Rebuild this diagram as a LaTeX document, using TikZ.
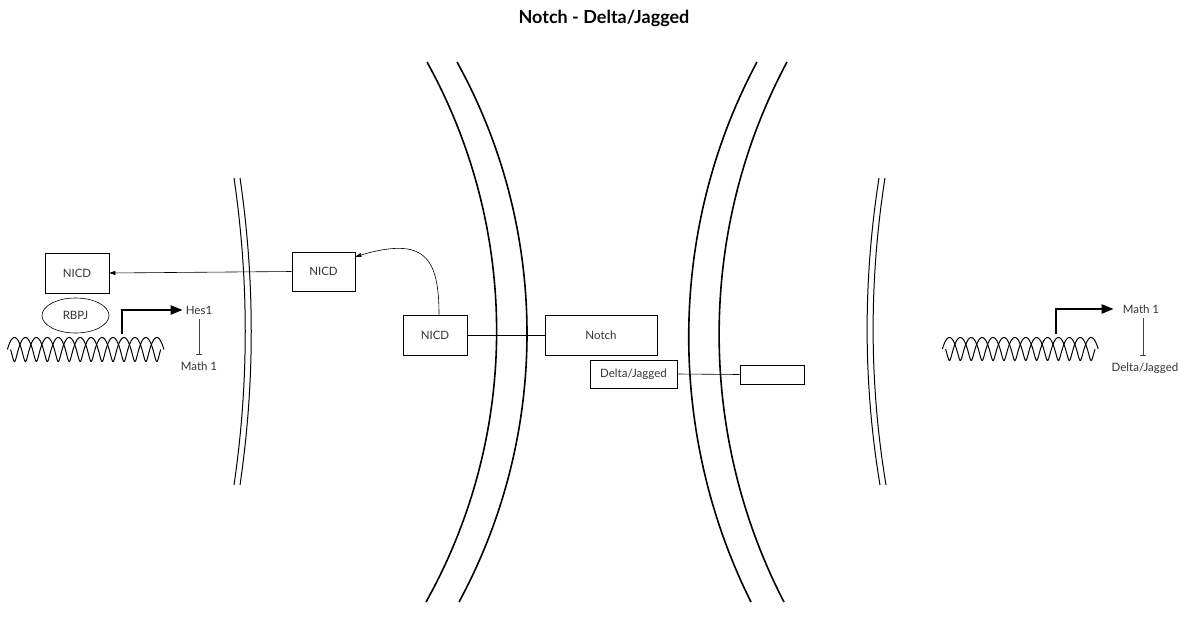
\documentclass[tikz,border=0pt]{standalone}
\usepackage{fontspec}
\setmainfont{Lato}
\usetikzlibrary{shapes.geometric,arrows.meta}
\begin{document}
\begin{tikzpicture}[x=1pt,y=-1pt,
  every node/.style={font=\fontsize{11.5}{13}\selectfont, text=black!80},
  box/.style={draw=black, line width=0.6pt, inner sep=0pt},
  mem/.style={line width=1.6pt, black},
  thinmem/.style={line width=1pt, black},
  conn/.style={line width=0.6pt, black},
  arr/.style={conn, -{Triangle[length=6pt,width=4pt]}},
  prom/.style={line width=2.2pt, black, -{Triangle[length=12pt,width=9pt]}},
  inhib/.style={line width=0.6pt, black!75, -{Bar[width=6pt]}},
  dna/.style={line width=1pt, black},
  lbl/.style={inner sep=1pt}]
\useasboundingbox (0,0) rectangle (1184,632);

% title
\node[font=\fontsize{18}{20}\selectfont\bfseries, text=black] (title) at (604,18) {Notch - Delta/Jagged};

% large membranes (centre)
\draw[mem] (427,62) .. controls (520,230) and (520,434) .. (426,602);
\draw[mem] (457,62) .. controls (550,230) and (550,434) .. (459,602);
\draw[mem] (757,62) .. controls (667,230) and (667,434) .. (751,602);
\draw[mem] (787,62) .. controls (697,230) and (697,434) .. (784,602);

% thin membranes (outer cells)
\draw[thinmem] (234,178) .. controls (249,280) and (249,383) .. (234,485);
\draw[thinmem] (240,178) .. controls (255,280) and (255,383) .. (240,485);
\draw[thinmem] (879,178) .. controls (863,280) and (863,383) .. (880,485);
\draw[thinmem] (885,178) .. controls (869,280) and (869,383) .. (886,485);

% boxes
\node[box, minimum width=64pt, minimum height=40pt] (nicd1) at (77,273) {NICD};
\node[draw=black, line width=0.6pt, ellipse, minimum width=67pt, minimum height=35pt, inner sep=0pt] (rbpj) at (75.5,315.5) {RBPJ};
\node[box, minimum width=63pt, minimum height=39pt] (nicd2) at (323.5,271.5) {NICD};
\node[box, minimum width=64pt, minimum height=40pt] (nicd3) at (435,335) {NICD};
\node[box, minimum width=112pt, minimum height=40pt] (notch) at (601,335) {Notch};
\node[box, minimum width=87pt, minimum height=28pt] (delta) at (633.5,374) {Delta/Jagged};
\node[box, minimum width=64pt, minimum height=19pt] (ligand) at (772,374.5) {};

% DNA left (projected double helix)
\draw[dna] plot[domain=0:2520, samples=300, smooth] ({9+\x/360*21.9+1.6*cos(\x)}, {349.5+12*sin(\x)});
\draw[dna] plot[domain=0:2520, samples=300, smooth] ({9+\x/360*21.9-1.6*cos(\x)}, {349.5-12*sin(\x)});
% DNA right
\draw[dna] plot[domain=0:2520, samples=300, smooth] ({944+\x/360*21.8+1.6*cos(\x)}, {349+11.5*sin(\x)});
\draw[dna] plot[domain=0:2520, samples=300, smooth] ({944+\x/360*21.8-1.6*cos(\x)}, {349-11.5*sin(\x)});

% gene labels
\node[lbl] (hes1) at (199,310) {Hes1};
\node[lbl] (math1l) at (199,366) {Math 1};
\node[lbl] (math1r) at (1141,309) {Math 1};
\node[lbl] (deltar) at (1145,368) {Delta/Jagged};

\coordinate (p1) at (122,334);
\coordinate (p2) at (1056,334);

% promoters
\draw[prom] (p1) |- ([xshift=-2pt]hes1.west);
\draw[prom] (p2) |- ([xshift=-8pt]math1r.west);

% inhibition
\draw[inhib] ([yshift=-4pt]hes1.south) -- ([yshift=6pt]math1l.north);
\draw[inhib] ([xshift=2pt,yshift=-4pt]math1r.south) -- ([xshift=-2pt,yshift=6pt]deltar.north);

% connectors
\draw[arr] (nicd2.west) -- (nicd1.east);
\draw[arr] ([xshift=4pt]nicd3.north) .. controls (439,258) and (425,236) .. ([yshift=-5pt]nicd2.north east);
\draw[conn] (nicd3.east) -- (notch.west);
\draw[conn] (delta.east) -- (ligand.west);
\end{tikzpicture}
\end{document}
